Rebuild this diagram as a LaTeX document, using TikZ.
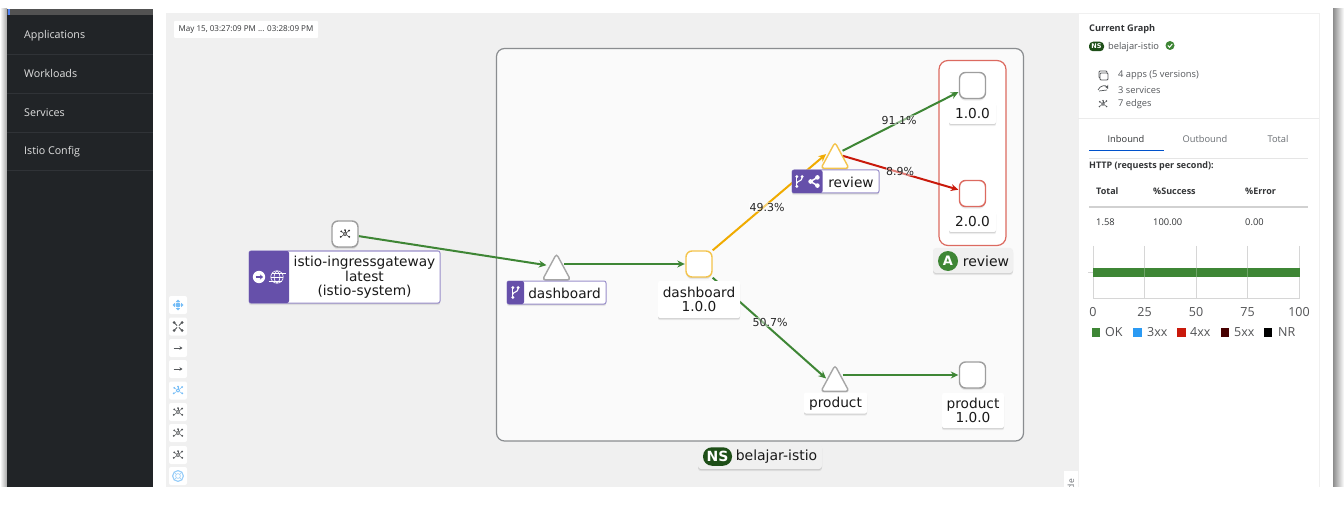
\documentclass[tikz,border=0pt]{standalone}
\usepackage{fontspec}
\setmainfont{DejaVu Sans}
\newfontfamily\uifont{Open Sans}
\usetikzlibrary{arrows.meta,shapes.geometric,shadows,calc}
\definecolor{okgreen}{HTML}{3E8635}
\definecolor{warnorange}{HTML}{F0AB00}
\definecolor{errred}{HTML}{C9190B}
\definecolor{kpurple}{HTML}{6650AA}
\definecolor{kpurpleline}{HTML}{9A8FCB}
\definecolor{sidebar}{HTML}{212427}
\definecolor{sideline}{HTML}{303337}
\definecolor{canvasgrey}{HTML}{F0F0F0}
\definecolor{nsfill}{HTML}{FAFAFA}
\definecolor{nsline}{HTML}{8A8D90}
\definecolor{nsdark}{HTML}{1E4F18}
\definecolor{uitext}{HTML}{333537}
\definecolor{uimuted}{HTML}{6A6E73}
\definecolor{iconblue}{HTML}{73BCF7}
\definecolor{icongrey}{HTML}{55585B}
\definecolor{gridgrey}{HTML}{D6D6D6}
\definecolor{xxblue}{HTML}{2B9AF3}
\definecolor{xxdark}{HTML}{470000}
\pgfdeclarelayer{bgl}\pgfdeclarelayer{edgel}\pgfsetlayers{bgl,edgel,main}
\tikzset{
  softshadow/.style={general shadow={shadow xshift=0pt,shadow yshift=-2.2pt,opacity=.07,fill=black},general shadow={shadow xshift=0pt,shadow yshift=-1pt,opacity=.1,fill=black}},
  sqnode/.style={draw=#1,fill=white,line width=1.4pt,rounded corners=6pt,minimum width=26pt,minimum height=26pt,inner sep=0pt,softshadow},
  trinode/.style={isosceles triangle,isosceles triangle stretches,shape border rotate=90,draw=#1,fill=white,line width=1.4pt,rounded corners=3pt,minimum width=28pt,minimum height=26pt,inner sep=0pt,anchor=apex,softshadow},
  txtlab/.style={fill=white,rounded corners=2pt,inner sep=0pt,softshadow,font=\fontsize{13.7}{14.5}\selectfont,align=center,text=black!90},
  boxpurple/.style={draw=kpurpleline,fill=white,line width=1pt,rounded corners=2pt,inner sep=0pt,softshadow},
  ptext/.style={inner sep=0pt,font=\fontsize{13.7}{14.5}\selectfont,align=center,text=black!90},
  gtext/.style={inner sep=0pt,font=\fontsize{14}{14.5}\selectfont,text=black!90},
  grouplab/.style={fill=canvasgrey,rounded corners=3pt,inner sep=0pt,softshadow},
  flow/.style={draw=#1,line width=2pt,-{Stealth[length=7.5pt,width=7pt,inset=2.4pt]},shorten >=0.5pt},
  pct/.style={inner sep=0.5pt,fill=white,fill opacity=.45,text opacity=1,font=\fontsize{11}{11}\selectfont,text=black!85},
  side/.style={anchor=west,inner sep=0pt,yshift=-1pt,text=white!88!black,font=\uifont\fontsize{10.7}{11}\selectfont},
  ui/.style={anchor=west,inner sep=0pt,yshift=-1pt,text=uitext,font=\uifont\fontsize{9.3}{9.3}\selectfont},
  uib/.style={ui,font=\uifont\bfseries\fontsize{9}{9}\selectfont},
  uim/.style={ui,anchor=center,yshift=0pt,text=uimuted},
  tick/.style={inner sep=0pt,text=uitext!85,font=\uifont\fontsize{12.5}{12.5}\selectfont},
  leg/.style={anchor=west,inner sep=0pt,text=uitext!85,font=\uifont\fontsize{12.5}{12.5}\selectfont},
  toolbtn/.style={fill=white,rounded corners=2pt,minimum width=18pt,minimum height=18pt,inner sep=0pt},
  topoicon/.pic={
    \draw[line width=.7pt] (0,0) circle (1.7);
    \foreach \a/\r in {35/5.2,145/5.2,215/4.6,320/5.4,270/3.8}{
      \draw[line width=.5pt] (\a:1.7) -- (\a:\r);
      \fill (\a:\r) circle (1);
    }
  },
  branchicon/.pic={
    \draw[line width=1.1pt] (-3.6,-5.5) -- (-3.6,5.5);
    \draw[line width=1.1pt] (3.6,-5.5) .. controls (3.6,0) and (-3.6,-1) .. (-3.6,2.5);
    \fill (-3.6,-6.5) circle (2.2);
    \fill (-3.6,6.5) circle (2.2);
    \fill (3.6,-6.5) circle (2.2);
  },
  shareicon/.pic={
    \draw[line width=1.5pt] (5,-6) -- (-5,0) -- (5,6);
    \fill (5,-6) circle (3.4);
    \fill (5,6) circle (3.4);
    \fill (-5,0) circle (3.4);
  },
  arrowline/.pic={
    \draw[line width=.8pt,-{Stealth[length=3pt,width=3.5pt]}] (-4.5,0) -- (4.5,0);
  },
  fiticon/.pic={
    \draw[line width=.9pt] (-4,-4) -- (4,4) (-4,4) -- (4,-4);
    \foreach \p in {(-4,-4),(4,4),(-4,4),(4,-4)} \fill \p circle (1.5);
    \fill[white] (0,0) circle (1.6);
  },
  moveicon/.pic={
    \fill (0,-5.5) -- (2.2,-3) -- (-2.2,-3) -- cycle;
    \fill (0,5.5) -- (2.2,3) -- (-2.2,3) -- cycle;
    \fill (-5.5,0) -- (-3,2.2) -- (-3,-2.2) -- cycle;
    \fill (5.5,0) -- (3,2.2) -- (3,-2.2) -- cycle;
    \fill (0,0) circle (2.4);
  },
  helpicon/.pic={
    \draw[line width=1.1pt] (0,0) circle (5.4);
    \draw[line width=.6pt] (0,0) circle (2.4);
    \draw[line width=.6pt] (-4,-4) -- (-1.7,-1.7) (4,4) -- (1.7,1.7) (-4,4) -- (-1.7,1.7) (4,-4) -- (1.7,-1.7);
  },
}
\begin{document}
\begin{tikzpicture}[x=1pt,y=-1pt]
\useasboundingbox (0,0) rectangle (1344,505);
\begin{pgfonlayer}{bgl}
  \fill[white] (0,0) rectangle (1344,505);
  % side navigation
  \shade[left color=white,right color=black!35] (0,9) rectangle (7,487);
  \shade[left color=black!45,right color=white] (1333,9) rectangle (1344,487);
  \fill[sidebar] (7,9) rectangle (153,487);
  \fill[black!68] (7,9) rectangle (153,15);
  \fill[iconblue!70!blue] (8,9) rectangle (10,15);
  \foreach \yy in {54,93,132,170} \draw[sideline,line width=.8pt] (7,\yy) -- (153,\yy);
  % graph canvas
  \fill[canvasgrey] (166,13.5) rectangle (1078,487);
  % side panel
  \draw[black!6,line width=1pt,fill=white] (1078,14) rectangle (1319,490);
  % namespace box
  \draw[draw=nsline,fill=nsfill,line width=1.2pt,rounded corners=8pt] (496.5,48.5) rectangle (1023.5,441);
  % application box
  \draw[draw=errred!65,fill=white,line width=1.2pt,rounded corners=9pt] (939,60.5) rectangle (1006,245.5);
\end{pgfonlayer}

\node[side] (navA) at (24,34.5) {Applications};
\node[side] (navW) at (24,72.5) {Workloads};
\node[side] (navS) at (24,111.5) {Services};
\node[side] (navI) at (24,150.5) {Istio Config};

\node[fill=white,rounded corners=1pt,minimum width=144pt,minimum height=17pt,inner sep=0pt] (stampBox) at (246,29.5) {};
\node[inner sep=0pt,text=uitext,font=\uifont\fontsize{8.05}{8.3}\selectfont] (stamp) at (stampBox) {May 15, 03:27:09 PM ... 03:28:09 PM};

% toolbar
\node[toolbtn] (b1) at (178,305) {}; \pic[color=iconblue] at (b1) {moveicon};
\node[toolbtn] (b2) at (178,326.5) {}; \pic[color=icongrey] at (b2) {fiticon};
\node[toolbtn] (b3) at (178,348) {}; \pic[color=icongrey] at (b3) {arrowline};
\node[toolbtn] (b4) at (178,369) {}; \pic[color=icongrey] at (b4) {arrowline};
\node[toolbtn] (b5) at (178,390.5) {}; \pic[color=iconblue] at (b5) {topoicon};
\node[toolbtn] (b6) at (178,412) {}; \pic[color=icongrey] at (b6) {topoicon};
\node[toolbtn] (b7) at (178,433) {}; \pic[color=icongrey] at (b7) {topoicon};
\node[toolbtn] (b8) at (178,455) {}; \pic[color=icongrey] at (b8) {topoicon};
\node[toolbtn] (b9) at (178,476) {}; \pic[color=iconblue!75] at (b9) {helpicon};

% graph nodes
\node[sqnode=black!38] (gwSq) at (345,234) {};
\pic[color=black!80] at (gwSq) {topoicon};

\node[boxpurple,minimum width=191pt,minimum height=52pt] (gwLab) at (344.5,277) {};
\fill[kpurple,rounded corners=2pt] (249,251) rectangle (289,303);
\fill[white] (259,277) circle (6.2);
\draw[kpurple,line width=1.3pt,-{Stealth[length=3pt,width=5pt]}] (255.5,277) -- (263,277);
\begin{scope}[white,line width=.6pt]
  \draw (277,277) circle (6.2);
  \draw (277,270.8) .. controls (273,274) and (273,280) .. (277,283.2);
  \draw (277,270.8) .. controls (281,274) and (281,280) .. (277,283.2);
  \draw (270.8,277) -- (283.2,277) (272,273) -- (286,273) (268.5,281) -- (282,281);
\end{scope}
\node[ptext] (gwTxt) at (364.5,277.5) {istio-ingressgateway\\latest\\(istio-system)};

\node[trinode=black!35] (dashTri) at (556.5,252) {};
\node[boxpurple,minimum width=99pt,minimum height=23pt] (dashLab) at (556.5,292.5) {};
\fill[kpurple,rounded corners=2pt] (507,281) rectangle (524,304);
\pic[color=white,scale=.75] at (515.5,292.5) {branchicon};
\node[ptext] (dashTxt) at (564.5,293) {dashboard};

\node[sqnode=warnorange!70] (dashSq) at (699,264) {};
\node[txtlab,minimum width=82pt,minimum height=37pt] (dashWl) at (699,299.5) {dashboard\\1.0.0};

\node[trinode=warnorange!70] (revTri) at (835,140.5) {};
\node[boxpurple,minimum width=87pt,minimum height=23pt] (revLab) at (835.5,181.5) {};
\fill[kpurple,rounded corners=2pt] (792,170) rectangle (822.5,193);
\pic[color=white,scale=.75] at (799.5,181.5) {branchicon};
\pic[color=white,scale=.68] at (814,181.5) {shareicon};
\node[ptext] (revTxt) at (851,182) {review};

\node[sqnode=black!38] (r1Sq) at (972.5,85.5) {};
\node[fill=white,rounded corners=2pt,softshadow,minimum width=47pt,minimum height=22pt,inner sep=0pt] (r1Lab) at (972.5,113) {};
\node[ptext] (r1Txt) at (972.5,113.7) {1.0.0};
\node[sqnode=errred!65] (r2Sq) at (972.5,193.5) {};
\node[txtlab,minimum width=47pt,minimum height=21pt] (r2Lab) at (972.5,221.5) {2.0.0};

\node[grouplab,minimum width=80pt,minimum height=25pt] (appLab) at (973,260.5) {};
\node[circle,fill=okgreen,minimum size=20pt,inner sep=0pt,text=white,font=\fontsize{13}{13}\bfseries\selectfont] (appBadge) at (948,261) {A};
\node[gtext] (appTxt) at (986,261) {review};

\node[trinode=black!35] (prodTri) at (835,363.5) {};
\node[fill=white,rounded corners=2pt,softshadow,minimum width=63pt,minimum height=21pt,inner sep=0pt] (prodLab) at (835.5,403) {};
\node[ptext] (prodTxt) at (835.5,404) {product};
\node[sqnode=black!38] (prodSq) at (972.5,375) {};
\node[txtlab,minimum width=62pt,minimum height=35pt] (prodWl) at (973,410.5) {product\\1.0.0};

\node[grouplab,minimum width=124pt,minimum height=25pt] (nsLab) at (760,456.5) {};
\node[fill=nsdark,rounded corners=9pt,minimum width=29pt,minimum height=18.5pt,inner sep=0pt,text=white,font=\fontsize{14}{14}\bfseries\selectfont] (nsBadge) at (717.5,456.5) {NS};
\node[gtext] (nsTxt) at (776.5,457) {belajar-istio};

% connectors
\begin{pgfonlayer}{edgel}
  \draw[flow=okgreen] (gwSq) -- ([xshift=-2pt,yshift=1pt]dashTri.left side);
  \draw[flow=okgreen] (dashTri.right side |- dashSq.west) -- (dashSq.west);
  \draw[flow=warnorange] (dashSq.north east) -- ([xshift=-1pt,yshift=1pt]revTri.left side);
  \draw[flow=okgreen] ([yshift=4pt]revTri.right side) -- (r1Sq.205);
  \draw[flow=errred] ([yshift=-1pt]revTri.right side) -- (r2Sq.165);
  \draw[flow=okgreen] (dashSq.south east) -- ([xshift=-1pt,yshift=-1pt]prodTri.left side);
  \draw[flow=okgreen] (prodTri.right side |- prodSq.west) -- (prodSq.west);
\end{pgfonlayer}
\node[pct] (p911) at (899,120) {91.1\%};
\node[pct] (p89) at (900,171) {8.9\%};
\node[pct] (p493) at (767,207) {49.3\%};
\node[pct] (p507) at (770,322) {50.7\%};

% side panel contents
\node[uib,font=\uifont\bfseries\fontsize{9.2}{9.4}\selectfont] (curG) at (1089,28) {Current Graph};
\node[fill=nsdark,rounded corners=4pt,minimum width=15pt,minimum height=9.5pt,inner sep=0pt,text=white,font=\fontsize{6.5}{6.5}\bfseries\selectfont] (nsPill) at (1096.5,46.5) {NS};
\node[ui,text=uimuted!75!black] (nsName) at (1108,46) {belajar-istio};
\node[circle,fill=okgreen,minimum size=9pt,inner sep=0pt] (okDot) at (1170,45.5) {};
\draw[white,line width=1pt] ($(okDot)+(-2.2,0)$) -- ($(okDot)+(-.5,1.8)$) -- ($(okDot)+(2.3,-1.6)$);

\draw[icongrey,line width=.8pt,rounded corners=1pt] (1099,71) rectangle (1107,78);
\draw[icongrey,line width=.8pt,rounded corners=1pt,fill=white] (1100,73) rectangle (1108,80);
\draw[icongrey,line width=.7pt,->,>=stealth] (1098,90) .. controls (1100,85) and (1106,85) .. (1108,89);
\draw[icongrey,line width=.7pt] (1099,91) -- (1107,90);
\pic[color=icongrey,scale=.85] at (1103,104) {topoicon};
\node[ui,text=uimuted!80!black] (s1) at (1118,74.5) {4 apps (5 versions)};
\node[ui,text=uimuted!80!black] (s2) at (1118,89.5) {3 services};
\node[ui,text=uimuted!80!black] (s3) at (1118,103.5) {7 edges};
\draw[black!8,line width=1pt] (1078,118.5) -- (1319,118.5);

\node[uim,text=uitext] (tabIn) at (1126,138.5) {Inbound};
\node[uim] (tabOut) at (1205,138.5) {Outbound};
\node[uim] (tabTot) at (1278,138.5) {Total};
\draw[black!10,line width=.8pt] (1089,158.5) -- (1308,158.5);
\draw[blue!60!cyan!80!black,line width=1.6pt] (1089,150.5) -- (1163.5,150.5);

\node[uib] (http) at (1089,165.5) {HTTP (requests per second):};
\node[uib] (hTot) at (1096,190.5) {Total};
\node[uib] (hSuc) at (1153,190.5) {\%Success};
\node[uib] (hErr) at (1245,190.5) {\%Error};
\draw[black!18,line width=1.3pt] (1089,207) -- (1308,207);
\node[ui] (vTot) at (1096,221.5) {1.58};
\node[ui] (vSuc) at (1153,221.5) {100.00};
\node[ui] (vErr) at (1245,221.5) {0.00};

% chart
\foreach \xx in {1093,1144.5,1196,1247.5,1299.5} \draw[gridgrey,line width=.8pt] (\xx,246) -- (\xx,298);
\draw[gridgrey,line width=.8pt] (1093,298) -- (1299.5,298);
\draw[gridgrey,line width=.8pt] (1088,272.5) -- (1093,272.5);
\fill[okgreen] (1093,268) rectangle (1299.5,277);
\foreach \xx in {1144.5,1196,1247.5} \draw[white,opacity=.25,line width=.8pt] (\xx,268) -- (\xx,277);
\node[tick] (t0) at (1093,312) {0};
\node[tick] (t25) at (1144.5,312) {25};
\node[tick] (t50) at (1196,312) {50};
\node[tick] (t75) at (1247.5,312) {75};
\node[tick] (t100) at (1299,312) {100};
\fill[okgreen] (1091.5,328) rectangle (1100,336.5);
\node[leg] (lOk) at (1105,332.5) {OK};
\fill[xxblue] (1133,328) rectangle (1142,336.5);
\node[leg] (l3) at (1147,332.5) {3xx};
\fill[errred] (1177,328) rectangle (1185.5,336.5);
\node[leg] (l4) at (1190,332.5) {4xx};
\fill[xxdark] (1220.5,328) rectangle (1229,336.5);
\node[leg] (l5) at (1234,332.5) {5xx};
\fill[black] (1263.5,328) rectangle (1272,336.5);
\node[leg] (lNr) at (1278,332.5) {NR};

% hide tab, cut by the window's lower edge
\fill[white] (1063.5,471) rectangle (1078,490);
\node[rotate=90,anchor=east,inner sep=0pt,text=uimuted,font=\uifont\fontsize{8.5}{8.5}\selectfont] (hideTab) at (1071,479) {Hide};
\fill[white] (0,487) rectangle (1344,505);
\end{tikzpicture}
\end{document}
